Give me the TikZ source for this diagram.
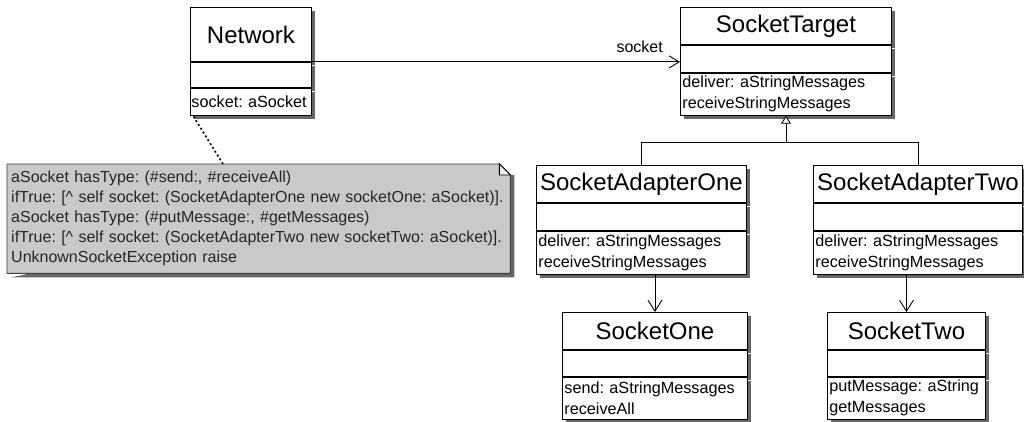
\documentclass[tikz,border=0pt]{standalone}
\usepackage{fontspec}
\setmainfont{Liberation Sans}
\frenchspacing
\usetikzlibrary{arrows.meta,shadows,backgrounds}

\begin{document}
\begin{tikzpicture}[x=1pt, y=-1pt]
    % ===== PARAMETERS =====
    \pgfmathsetmacro{\LW}{0.9}    % line width in pt
    \pgfmathsetmacro{\Fold}{11}   % dog-ear of the note
    \pgfmathsetmacro{\Sh}{4}      % shadow offset

    \useasboundingbox (0,0) rectangle (1024,422);

    % ===== STYLES =====
    \tikzset{
        classbox/.style={
            draw, fill=white, line width=\LW pt, inner sep=0pt,
            drop shadow={shadow xshift=\Sh pt, shadow yshift=-\Sh pt, fill=black!60, opacity=1}
        },
        classhead/.style={classbox, anchor=north west, font=\fontsize{24}{28}\selectfont},
        classattr/.style={classbox, anchor=north},
        classops/.style={classbox, anchor=north, align=left, inner xsep=2pt,
            font=\fontsize{16.2}{21}\selectfont},
        notetext/.style={anchor=north west, align=left, inner xsep=4pt, inner ysep=0pt,
            font=\fontsize{16}{20}\selectfont, text=black!85},
        notefill/.style={fill=gray!42, draw=black!75, line width=\LW pt},
        assoc/.style={line width=\LW pt, -{Straight Barb[length=10pt, width=12pt]}},
        depend/.style={line width=\LW pt, -{Straight Barb[length=11pt, width=14pt]}},
        inherit/.style={line width=\LW pt, -{Triangle[open, length=8pt, width=10pt, fill=white]}},
        noteline/.style={line width=1.6pt, dash pattern=on 2pt off 2.5pt}
    }

    % ===== CLASSES =====
    % Network
    \node[classhead, minimum width=121pt, minimum height=54pt] (net) at (190,7) {Network};
    \node[classattr, minimum width=121pt, minimum height=25pt] (net-attr) at (net.south) {};
    \node[classops, inner xsep=1pt, text width=119pt, minimum height=27pt] (net-ops) at (net-attr.south) {socket:~aSocket};

    % SocketTarget
    \node[classhead, minimum width=211pt, minimum height=37pt] (target) at (680,7) {SocketTarget};
    \node[classattr, minimum width=211pt, minimum height=27pt] (target-attr) at (target.south) {};
    \node[classops, text width=207pt, minimum height=42pt] (target-ops) at (target-attr.south) {deliver:~aStringMessages\\receiveStringMessages};

    % SocketAdapterOne
    \node[classhead, minimum width=210pt, minimum height=37pt] (adapterone) at (536,165) {SocketAdapterOne};
    \node[classattr, minimum width=210pt, minimum height=27pt] (adapterone-attr) at (adapterone.south) {};
    \node[classops, text width=206pt, minimum height=43pt] (adapterone-ops) at (adapterone-attr.south) {deliver:~aStringMessages\\receiveStringMessages};

    % SocketAdapterTwo
    \node[classhead, minimum width=209pt, minimum height=37pt] (adaptertwo) at (813,165) {SocketAdapterTwo};
    \node[classattr, minimum width=209pt, minimum height=27pt] (adaptertwo-attr) at (adaptertwo.south) {};
    \node[classops, text width=205pt, minimum height=43pt] (adaptertwo-ops) at (adaptertwo-attr.south) {deliver:~aStringMessages\\receiveStringMessages};

    % SocketOne
    \node[classhead, minimum width=185pt, minimum height=37pt] (socketone) at (562,312) {SocketOne};
    \node[classattr, minimum width=185pt, minimum height=26pt] (socketone-attr) at (socketone.south) {};
    \node[classops, text width=181pt, minimum height=42pt] (socketone-ops) at (socketone-attr.south) {send:~aStringMessages\\receiveAll};

    % SocketTwo
    \node[classhead, minimum width=158pt, minimum height=37pt] (sockettwo) at (827,312) {SocketTwo};
    \node[classattr, minimum width=158pt, minimum height=26pt] (sockettwo-attr) at (sockettwo.south) {};
    \node[classops, text width=154pt, minimum height=42pt] (sockettwo-ops) at (sockettwo-attr.south) {putMessage:~aString\\getMessages};

    % ===== NOTE =====
    \node[notetext, text width=495pt, minimum height=109pt] (note) at (7,164) {
        aSocket hasType: (\#send:, \#receiveAll)\\
        ifTrue: [\textasciicircum{} self socket: (SocketAdapterOne new socketOne: aSocket)].\\
        aSocket hasType: (\#putMessage:, \#getMessages)\\
        ifTrue: [\textasciicircum{} self socket: (SocketAdapterTwo new socketTwo: aSocket)].\\
        UnknownSocketException raise
    };
    \begin{scope}[on background layer]
        % shadow, then the dog-eared sheet
        \fill[black!60] ([xshift=\Sh pt, yshift=-\Sh pt]note.south west) -- ([xshift=\Sh pt, yshift=-\Sh pt]note.south east)
            -- ([xshift=\Sh pt, yshift=-\Fold pt]note.north east) -- ([yshift=-\Fold pt]note.north east) -- cycle;
        \filldraw[notefill] (note.south west) -- (note.north west) -- ([xshift=-\Fold pt]note.north east)
            -- ([yshift=-\Fold pt]note.north east) -- (note.south east) -- cycle;
    \end{scope}
    \draw[line width=\LW pt, fill=gray!15] ([xshift=-\Fold pt]note.north east) |- ([yshift=-\Fold pt]note.north east) -- cycle;

    % ===== CONNECTORS =====
    % association with role name
    \coordinate (roleend) at (net.south east -| target-attr.west);
    \draw[assoc] (net.south east) -- (roleend);
    \node[anchor=south east, inner sep=0pt, font=\fontsize{16}{20}\selectfont] (role) at ([xshift=-17pt, yshift=9pt]roleend) {socket};

    % generalization
    \path (target-ops.south) ++(0,27) coordinate (genbar);
    \draw[line width=\LW pt] (adapterone.north) |- (genbar) -| (adaptertwo.north);
    \draw[inherit] (genbar) -- (target-ops.south);

    % adapters use their sockets
    \draw[depend] (adapterone-ops.south -| socketone.north) -- (socketone.north);
    \draw[depend] (adaptertwo-ops.south -| sockettwo.north) -- (sockettwo.north);

    % note attached to the attribute
    \coordinate (notepin) at ([xshift=216pt]note.north west);
    \draw[noteline] (notepin) -- ([xshift=3pt]net-ops.south west);
\end{tikzpicture}
\end{document}
